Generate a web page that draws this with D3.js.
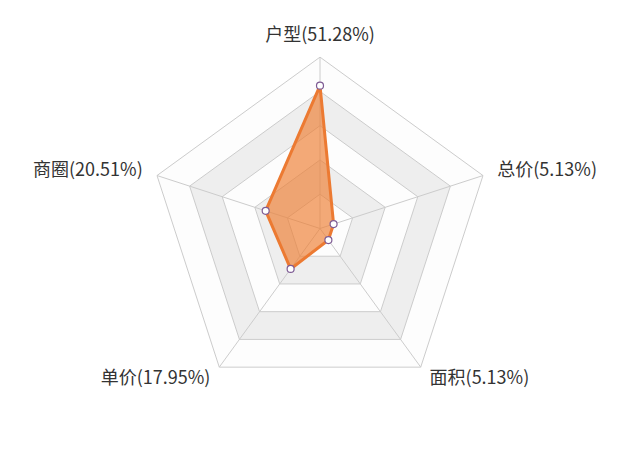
<!DOCTYPE html>
<html>
<head>
<meta charset="utf-8">
<script src="https://cdn.jsdelivr.net/npm/d3@7/dist/d3.min.js"></script>
<style>
  html, body { margin: 0; padding: 0; background: #fff; }
  svg { display: block; }
</style>
</head>
<body>
<svg id="chart" width="640" height="457"></svg>
<script>
// Indicators in drawing order (counter-clockwise from top)
const categories = ["户型", "商圈", "单价", "面积", "总价"];
const values = [51.28, 20.51, 17.95, 5.13, 5.13];
const labelTexts = ["户型(51.28%)", "商圈(20.51%)", "单价(17.95%)", "面积(5.13%)", "总价(5.13%)"];
const radarMax = 61.54;
const splitCount = 5;

const W = 640, H = 457;
const cx = 320, cy = 228.5;
const R = Math.min(W, H) / 2 * 0.75;

const svg = d3.select("#chart");
const r = d3.scaleLinear().domain([0, radarMax]).range([0, R]);
const n = categories.length;
const angle = d3.scaleLinear().domain([0, n]).range([0, 2 * Math.PI]);
// angle measured from top, counter-clockwise
function pt(i, rad) {
  const a = angle(i);
  return [cx - rad * Math.sin(a), cy - rad * Math.cos(a)];
}

const line = d3.line();

// split areas (inner to outer), alternating colors
const areaColors = ["rgba(250,250,250,0.3)", "rgba(200,200,200,0.3)"];
const splitLevels = d3.range(1, splitCount + 1).map(k => radarMax * k / splitCount);
const g = svg.append("g");
splitLevels.slice().reverse().forEach((lvl, idxRev) => {
  const k = splitCount - 1 - idxRev;
  const outer = d3.range(n).map(i => pt(i, r(lvl)));
  const innerR = k === 0 ? 0 : r(splitLevels[k - 1]);
  const inner = d3.range(n).map(i => pt(i, innerR)).reverse();
  const d = line(outer) + "Z" + (innerR > 0 ? line(inner) + "Z" : "");
  g.append("path")
    .attr("d", d)
    .attr("fill", areaColors[k % 2])
    .attr("fill-rule", "evenodd");
});

// split lines
splitLevels.forEach(lvl => {
  g.append("path")
    .attr("d", line(d3.range(n).map(i => pt(i, r(lvl)))) + "Z")
    .attr("fill", "none")
    .attr("stroke", "#cccccc")
    .attr("stroke-width", 1);
});

// axis lines
d3.range(n).forEach(i => {
  const [x, y] = pt(i, R);
  g.append("line")
    .attr("x1", cx).attr("y1", cy)
    .attr("x2", x).attr("y2", y)
    .attr("stroke", "#cccccc")
    .attr("stroke-width", 1);
});

// indicator labels
const gap = 15;
d3.range(n).forEach(i => {
  const a = angle(i);
  const s = -Math.sin(a), c = -Math.cos(a);
  const [x, y] = pt(i, R + gap);
  let anchor = Math.abs(s) < 0.01 ? "middle" : (s > 0 ? "start" : "end");
  let yy = y;
  if (Math.abs(s) < 0.01 && c < 0) yy = y - 6;
  svg.append("text")
    .attr("x", x)
    .attr("y", yy)
    .attr("text-anchor", anchor)
    .attr("dominant-baseline", "middle")
    .attr("font-family", "'Noto Sans CJK SC', 'Noto Sans', sans-serif")
    .attr("font-size", 18)
    .attr("fill", "#333333")
    .text(labelTexts[i]);
});

// data polygon
const dataPts = values.map((v, i) => pt(i, r(v)));
svg.append("path")
  .attr("d", line(dataPts) + "Z")
  .attr("fill", "#ee7c30")
  .attr("fill-opacity", 0.65)
  .attr("stroke", "#ec7a32")
  .attr("stroke-width", 3)
  .attr("stroke-linejoin", "round");

// symbols
svg.selectAll("circle.pt")
  .data(values)
  .enter().append("circle")
  .attr("class", "pt")
  .attr("cx", (v, i) => pt(i, r(v))[0])
  .attr("cy", (v, i) => pt(i, r(v))[1])
  .attr("r", 3.5)
  .attr("fill", "#ffffff")
  .attr("stroke", "#7e5b94")
  .attr("stroke-width", 1.2);
</script>
</body>
</html>
